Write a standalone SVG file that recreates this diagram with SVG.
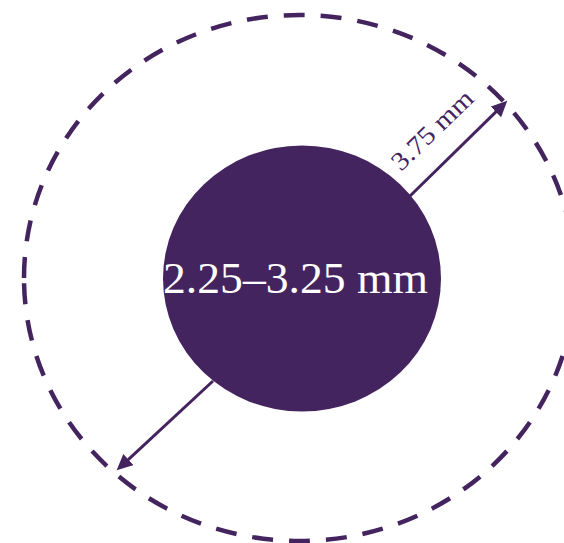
<svg xmlns="http://www.w3.org/2000/svg" width="564" height="543" viewBox="0 0 564 543">
  <defs>
    <style>
      .outer { fill: none; stroke: #44245f; stroke-width: 4.5; stroke-dasharray: 21 16; }
      .core { fill: #44245f; }
      .dim { fill: none; stroke: #44245f; stroke-width: 3; marker-end: url(#arrow); }
      .label { font-family: "Liberation Serif", "DejaVu Serif", serif; }
    </style>
    <marker id="arrow" markerUnits="userSpaceOnUse" markerWidth="18" markerHeight="16" refX="9" refY="7.5" orient="auto">
      <path d="M0,0 L16,7.5 L0,15 Z" fill="#44245f"/>
    </marker>
  </defs>
  <rect width="564" height="543" fill="#ffffff"/>
  <g id="outer-zone">
    <path class="outer" d="M24,278 A275.5,263 0 1,1 575,278 A275.5,263 0 1,1 24,278"/>
  </g>
  <g id="connectors">
    <line class="dim" x1="409" y1="197" x2="502.3" y2="105.6"/>
    <line class="dim" x1="213" y1="381" x2="121.8" y2="465.6"/>
  </g>
  <g id="core">
    <ellipse class="core" cx="302" cy="278.5" rx="139" ry="133"/>
    <text class="label" x="295.5" y="293" text-anchor="middle" font-size="44" fill="#ffffff" textLength="265" lengthAdjust="spacingAndGlyphs">2.25–3.25 mm</text>
  </g>
  <g id="radius-label">
    <text class="label" transform="translate(401,172) rotate(-44)" font-size="26" fill="#44245f" textLength="103" lengthAdjust="spacingAndGlyphs">3.75 mm</text>
  </g>
</svg>
